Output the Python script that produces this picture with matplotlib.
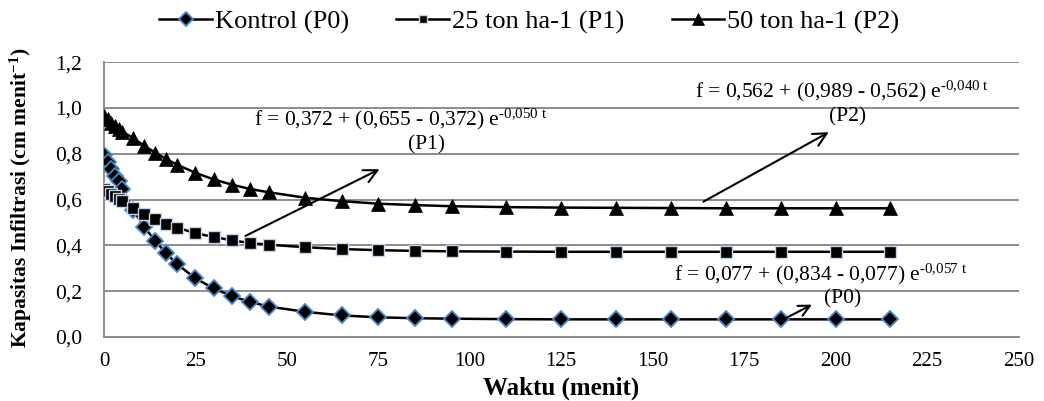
import matplotlib
matplotlib.use("Agg")
import matplotlib.pyplot as plt
from matplotlib.ticker import FuncFormatter

plt.rcParams['font.family'] = ['Liberation Serif', 'DejaVu Serif']
plt.rcParams['mathtext.fontset'] = 'custom'
plt.rcParams['mathtext.rm'] = 'Liberation Serif'
plt.rcParams['mathtext.it'] = 'Liberation Serif:italic'
plt.rcParams['mathtext.bf'] = 'Liberation Serif:bold'

# Data
waktu = [0, 1, 2, 3, 4, 5, 8, 11, 14, 17, 20, 25, 30, 35, 40, 45, 55, 65, 75,
         85, 95, 110, 125, 140, 155, 170, 185, 200, 215]
p0 = [0.795, 0.765, 0.735, 0.705, 0.68, 0.645, 0.555, 0.48, 0.42, 0.365, 0.318,
      0.256, 0.212, 0.178, 0.153, 0.133, 0.110, 0.094, 0.086, 0.082, 0.080,
      0.078, 0.077, 0.077, 0.077, 0.077, 0.077, 0.077, 0.077]
p1 = [0.648, 0.638, 0.626, 0.614, 0.603, 0.592, 0.562, 0.538, 0.515, 0.494,
      0.478, 0.453, 0.437, 0.422, 0.410, 0.403, 0.392, 0.384, 0.379, 0.376,
      0.374, 0.373, 0.372, 0.372, 0.372, 0.372, 0.372, 0.372, 0.372]
p2 = [0.965, 0.950, 0.935, 0.922, 0.910, 0.897, 0.868, 0.835, 0.805, 0.777,
      0.752, 0.717, 0.688, 0.665, 0.646, 0.632, 0.608, 0.593, 0.582, 0.576,
      0.571, 0.567, 0.565, 0.564, 0.563, 0.562, 0.562, 0.562, 0.562]
labels = ['Kontrol (P0)', '25 ton ha-1 (P1)', '50 ton ha-1 (P2)']
xticks = list(range(0, 251, 25))
yticks = [0.0, 0.2, 0.4, 0.6, 0.8, 1.0, 1.2]

fig = plt.figure(figsize=(10.44, 4.01), dpi=100)
ax = fig.add_axes([0.0996, 0.1596, 0.876, 0.6854])

l0, = ax.plot(waktu, p0, color='black', lw=1.8, marker='D', ms=8.5,
              mfc='black', mec='#4a86c8', mew=1.3, label=labels[0], zorder=3)
l1, = ax.plot(waktu, p1, color='black', lw=1.8, marker='s', ms=8,
              mfc='black', mec='#c8d4e8', mew=1.0, label=labels[1], zorder=3)
l2, = ax.plot(waktu, p2, color='black', lw=1.8, marker='^', ms=10,
              mfc='black', mec='black', mew=0.5, label=labels[2], zorder=3)

ax.set_xlim(0, 250)
ax.set_ylim(0, 1.2)
ax.set_xticks(xticks)
ax.set_yticks(yticks)
ax.yaxis.set_major_formatter(FuncFormatter(lambda v, p: f"{v:.1f}".replace('.', ',')))
ax.grid(axis='y', color='#8c8c8c', lw=1.4)
ax.set_axisbelow(True)
for s in ['top', 'right']:
    ax.spines[s].set_visible(False)
for s in ['left', 'bottom']:
    ax.spines[s].set_color('#8c8c8c')
    ax.spines[s].set_linewidth(1.4)
ax.tick_params(axis='x', length=0, labelsize=15, pad=11)
ax.tick_params(axis='y', length=0, labelsize=15.5, pad=16)

ax.set_xlabel('Waktu (menit)', fontsize=18, fontweight='bold')
ax.xaxis.set_label_coords(0.5, -0.145)
ax.set_ylabel(r'Kapasitas Infiltrasi (cm menit$^{\mathbf{-1}}$)', fontsize=15.5,
              fontweight='bold')
ax.yaxis.set_label_coords(-0.077, 0.505)

fs = 15.5
# Annotations
ax.text(81, 0.948, r'f = 0,372 + (0,655 - 0,372) e$^{\text{-0,050 t}}$', fontsize=fs,
        ha='center', va='center')
ax.text(88.3, 0.840, '(P1)', fontsize=fs, ha='center', va='center')
ax.annotate('', xy=(76, 0.738), xytext=(38, 0.436),
            arrowprops=dict(arrowstyle='->', color='black', lw=1.5, mutation_scale=24))

ax.text(201.8, 1.072, r'f = 0,562 + (0,989 - 0,562) e$^{\text{-0,040 t}}$', fontsize=fs,
        ha='center', va='center')
ax.text(203.4, 0.962, '(P2)', fontsize=fs, ha='center', va='center')
ax.annotate('', xy=(198.8, 0.90), xytext=(163.2, 0.585),
            arrowprops=dict(arrowstyle='->', color='black', lw=1.5, mutation_scale=24))

ax.text(196, 0.275, r'f = 0,077 + (0,834 - 0,077) e$^{\text{-0,057 t}}$', fontsize=fs,
        ha='center', va='center')
ax.text(202, 0.168, '(P0)', fontsize=fs, ha='center', va='center')
ax.annotate('', xy=(194.2, 0.147), xytext=(186, 0.079),
            arrowprops=dict(arrowstyle='->', color='black', lw=1.5, mutation_scale=20))

fig.legend(handles=[l0, l1, l2], labels=labels, loc='center', ncol=3,
           bbox_to_anchor=(0.507, 0.945), frameon=False, fontsize=19,
           handlelength=2.0, handletextpad=0.1, columnspacing=1.8, markerscale=0.8)

fig.savefig('out.png', dpi=100)
